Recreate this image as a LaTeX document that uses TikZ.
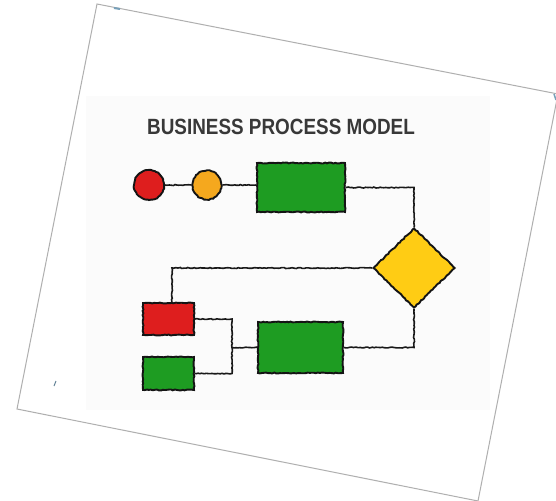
\documentclass[tikz,border=0pt]{standalone}
\usepackage{fontspec}
\setmainfont{Liberation Sans}
\usetikzlibrary{shapes.geometric,decorations.pathmorphing}
\definecolor{bpred}{RGB}{222,30,30}
\definecolor{bporange}{RGB}{245,168,30}
\definecolor{bpgreen}{RGB}{30,156,34}
\definecolor{bpyellow}{RGB}{255,204,20}
\definecolor{cardline}{RGB}{175,175,175}
\definecolor{pinblue}{RGB}{120,160,185}
\definecolor{faintbg}{RGB}{251,251,251}
\tikzset{
  rough/.style={decorate,decoration={random steps,segment length=2pt,amplitude=0.5pt}},
  shapeline/.style={draw=black!92,line width=1.9pt,rough,inner sep=0pt},
  circ/.style={shapeline,circle,minimum size=#1},
  boxy/.style={shapeline,rectangle},
  decision/.style={shapeline,diamond,fill=bpyellow,minimum width=82pt,minimum height=80pt},
  link/.style={draw=black!90,line width=1.6pt,rough},
  card/.style={draw=cardline,line width=1pt,fill=white},
  titletext/.style={text=black!78,font=\bfseries\fontsize{21}{22}\selectfont,xscale=0.9,yscale=1.05}
}
\begin{document}
\begin{tikzpicture}[x=1pt,y=-1pt]
\useasboundingbox (0,0) rectangle (556,500);
\clip (0,0) rectangle (556,500);
\fill[white] (0,0) rectangle (556,500);
% tilted card
\path[card] (97,4) -- (558,94) -- (478,501) -- (17,409) -- cycle;
\fill[faintbg] (86,96) rectangle (490,410);
% pin marks
\draw[pinblue,line width=2pt] (114,8) -- (120,9);
\draw[pinblue,line width=1.5pt] (554,94) -- (556,100);
\draw[pinblue!80!black,line width=1pt] (56,381) -- (54,386);
% title
\node[titletext] (title) at (281,127) {BUSINESS PROCESS MODEL};
% shapes
\node[circ=30pt,fill=bpred] (start) at (149,185) {};
\node[circ=29pt,fill=bporange] (event) at (207,185) {};
\node[boxy,fill=bpgreen,minimum width=88pt,minimum height=49pt] (task1) at (301,187.5) {};
\node[decision] (dec) at (414,268) {};
\node[shapeline,rectangle,fill=bpred,minimum width=51pt,minimum height=32pt] (redbox) at (168.5,319) {};
\node[shapeline,rectangle,fill=bpgreen,minimum width=51pt,minimum height=33pt] (greenbox) at (168.5,373.5) {};
\node[boxy,fill=bpgreen,minimum width=85pt,minimum height=51pt] (task2) at (300.5,347.5) {};
\coordinate (join) at (232,347.5);
\coordinate (redtop) at (172,303);
% connectors
\draw[link] (start.east) -- (event.west);
\draw[link] (event.east) -- (event.east -| task1.west);
\draw[link] (task1.east) -| (dec.north);
\draw[link] (dec.west) -| (redtop);
\draw[link] (redbox.east) -| (join) |- (greenbox.east);
\draw[link] (join) -- (task2.west);
\draw[link] (task2.east) -| (dec.south);
\end{tikzpicture}
\end{document}
